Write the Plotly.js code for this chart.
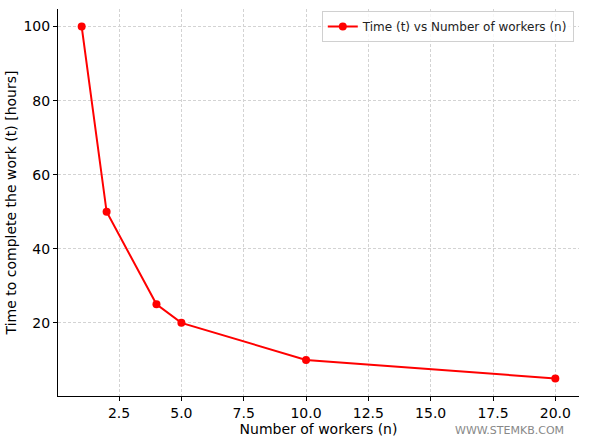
<!DOCTYPE html>
<html>
<head>
<meta charset="utf-8">
<script src="https://cdn.plot.ly/plotly-3.0.1.min.js"></script>
<style>
  html, body { margin: 0; padding: 0; background: #fff; }
  #chart { width: 600px; height: 440px; }
</style>
</head>
<body>
<div id="chart"></div>
<script>
// workers vs hours
const workers = [1, 2, 4, 5, 10, 20];
const hours = [100, 50, 25, 20, 10, 5];
const xTicks = [2.5, 5, 7.5, 10, 12.5, 15, 17.5, 20];
const xTickText = ['2.5', '5.0', '7.5', '10.0', '12.5', '15.0', '17.5', '20.0'];
const yTicks = [20, 40, 60, 80, 100];

const trace = {
  type: 'scatter',
  mode: 'lines+markers',
  x: workers,
  y: hours,
  name: 'Time (t) vs Number of workers (n)',
  line: { color: '#ff0000', width: 2 },
  marker: { color: '#ff0000', size: 8 },
};

const layout = {
  width: 600,
  height: 440,
  margin: { l: 58, r: 21, t: 9, b: 44 },
  paper_bgcolor: '#fff',
  plot_bgcolor: '#fff',
  font: { family: 'DejaVu Sans', size: 14, color: '#000' },
  showlegend: true,
  legend: {
    x: 0.99, y: 0.995, xanchor: 'right', yanchor: 'top',
    bgcolor: 'rgba(255,255,255,0.8)', bordercolor: '#d0d0d0', borderwidth: 1,
    font: { size: 12, color: '#222' },
    tracegroupgap: 0,
  },
  xaxis: {
    range: [0.05, 20.95],
    tickvals: xTicks,
    ticktext: xTickText,
    tickfont: { size: 14 },
    showgrid: true,
    gridcolor: '#d3d3d3',
    griddash: '3px,2px',
    zeroline: false,
    showline: true,
    linecolor: '#000',
    linewidth: 1,
    ticks: 'outside',
    ticklen: 4,
    tickcolor: '#000',
    title: { text: 'Number of workers (n)', font: { size: 14 }, standoff: 1 },
  },
  yaxis: {
    range: [0.25, 104.75],
    tickvals: yTicks,
    tickfont: { size: 14 },
    showgrid: true,
    gridcolor: '#d3d3d3',
    griddash: '3px,2px',
    zeroline: false,
    showline: true,
    linecolor: '#000',
    linewidth: 1,
    ticks: 'outside',
    ticklen: 4,
    tickcolor: '#000',
    title: { text: 'Time to complete the work (t) [hours]', font: { size: 14 }, standoff: 3 },
  },
  annotations: [{
    text: 'WWW.STEMKB.COM',
    xref: 'paper', yref: 'paper',
    x: 0.975, y: -0.09, xanchor: 'right', yanchor: 'middle',
    showarrow: false,
    font: { size: 11, color: '#888' },
  }],
};

Plotly.newPlot('chart', [trace], layout, { displayModeBar: false });
</script>
</body>
</html>
